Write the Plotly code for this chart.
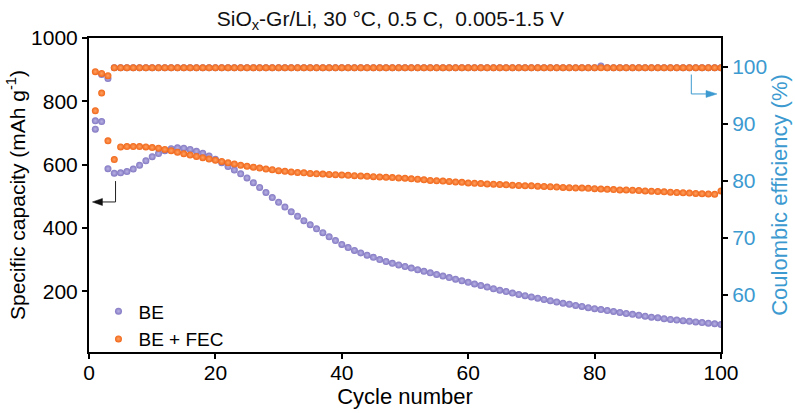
import plotly.graph_objects as go

cycles = list(range(1, 101))

be_capacity = [712, 736, 587, 573, 574, 578, 586, 598, 612, 625,
               635, 644, 650, 653, 652, 648, 642, 636, 627, 617,
               606, 594, 583, 571, 558, 543, 528, 512, 496, 481,
               466, 451, 437, 423, 410, 397, 385, 372, 360, 348,
               338, 329, 321, 314, 307, 300, 294, 288, 283, 278,
               273, 268, 263, 258, 253, 248, 243, 238, 233, 228,
               223, 218, 213, 208, 203, 199, 194, 190, 186, 182,
               178, 174, 170, 166, 162, 159, 155, 152, 148, 145,
               142, 139, 136, 133, 130, 127, 124, 121, 118, 116,
               113, 111, 109, 107, 105, 103, 101, 99, 97, 95]

fec_capacity = [770, 826, 675, 616, 656, 657, 657, 657, 656, 654,
                652, 648, 644, 639, 634, 630, 626, 622, 618, 614,
                610, 606, 602, 598, 595, 592, 589, 586, 584, 581,
                579, 577, 575, 574, 572, 571, 570, 569, 568, 567,
                566, 565, 564, 563, 562, 561, 560, 559, 558, 557,
                555, 554, 552, 550, 549, 548, 547, 545, 544, 542,
                541, 540, 539, 538, 537, 536, 535, 534, 533, 533,
                532, 531, 530, 529, 528, 527, 526, 526, 525, 524,
                523, 522, 521, 520, 520, 519, 518, 517, 516, 515,
                514, 513, 512, 511, 510, 509, 508, 507, 506, 517]

be_ce = [90.5, 98.6, 97.9] + [99.8] * 77 + [100.1] + [99.8] * 19
fec_ce = [99.1, 98.8, 98.4] + [99.8] * 97

series_names = ["BE", "BE + FEC"]
title_text = "SiO<sub>x</sub>-Gr/Li, 30 °C, 0.5 C,\u00a0\u00a00.005-1.5 V"

purple = "#8278C2"
purple_hi = "#B8B2E4"
orange = "#F06618"
orange_hi = "#FFA060"
blue = "#3C9AD0"
FONT = "Liberation Sans, Arial, sans-serif"

fig = go.Figure()

def mk(color, hi):
    return dict(size=7, color=color, line=dict(width=0),
                gradient=dict(type="radial", color=hi))

fig.add_trace(go.Scatter(x=cycles, y=be_capacity, mode="markers", name=series_names[0],
                         marker=mk(purple, purple_hi), yaxis="y"))
fig.add_trace(go.Scatter(x=cycles, y=fec_capacity, mode="markers", name=series_names[1],
                         marker=mk(orange, orange_hi), yaxis="y"))
fig.add_trace(go.Scatter(x=cycles, y=be_ce, mode="markers", showlegend=False,
                         marker=mk(purple, purple_hi), yaxis="y2"))
fig.add_trace(go.Scatter(x=cycles, y=fec_ce, mode="markers", showlegend=False,
                         marker=mk(orange, orange_hi), yaxis="y2"))

# black arrow -> capacity axis
fig.add_shape(type="path", xref="x", yref="y", path="M 4.2 548 L 4.2 482 L 1.6 482",
              line=dict(color="#222222", width=1))
fig.add_shape(type="path", xref="x", yref="y", xsizemode="pixel", ysizemode="pixel",
              xanchor=0.54, yanchor=482, path="M 0 0 L 10 3.5 L 10 -3.5 Z",
              fillcolor="#111111", line=dict(color="#111111", width=0.5))
# blue arrow -> CE axis
fig.add_shape(type="path", xref="x", yref="y2", path="M 95.3 98.6 L 95.3 95.2 L 98.0 95.2",
              line=dict(color=blue, width=1))
fig.add_shape(type="path", xref="x", yref="y2", xsizemode="pixel", ysizemode="pixel",
              xanchor=99.37, yanchor=95.2, path="M 0 0 L -11 3.5 L -11 -3.5 Z",
              fillcolor=blue, line=dict(color=blue, width=0.5))

fig.update_layout(
    width=795, height=413,
    margin=dict(l=89, r=74, t=38, b=61, autoexpand=False),
    paper_bgcolor="white", plot_bgcolor="white",
    font=dict(family=FONT, size=20, color="black"),
    title=dict(text=title_text, x=0.491, xanchor="center", y=0.955, yanchor="middle",
               font=dict(family=FONT, size=21, color="#111111")),
    xaxis=dict(range=[0, 100], tickvals=[0, 20, 40, 60, 80, 100], automargin=False,
               showline=True, linecolor="black", linewidth=2, mirror=True,
               ticks="outside", ticklen=5, tickwidth=2, tickcolor="black",
               showgrid=False, zeroline=False, ticklabelstandoff=-4,
               tickfont=dict(size=21),
               title=dict(text="Cycle number", font=dict(size=22), standoff=4)),
    yaxis=dict(range=[8, 1000], tickvals=[200, 400, 600, 800, 1000], automargin=False,
               showline=True, linecolor="black", linewidth=2,
               ticks="outside", ticklen=5, tickwidth=2, tickcolor="black",
               showgrid=False, zeroline=False,
               tickfont=dict(size=21),
               title=dict(text="Specific capacity (mAh g<sup>-1</sup>)",
                          font=dict(size=21), standoff=0)),
    yaxis2=dict(range=[50, 105], tickvals=[60, 70, 80, 90, 100], automargin=False,
                overlaying="y", side="right",
                showline=True, linecolor="black", linewidth=2,
                ticks="outside", ticklen=5, tickwidth=2, tickcolor="black",
                showgrid=False, zeroline=False,
                tickfont=dict(size=21, color=blue),
                title=dict(text="Coulombic efficiency (%)",
                           font=dict(size=22, color=blue), standoff=2)),
    legend=dict(x=0.015, y=0.19, xanchor="left", yanchor="top",
                bgcolor="rgba(0,0,0,0)", font=dict(size=19),
                itemwidth=30, tracegroupgap=0),
    showlegend=True,
)

fig.write_html("out.html")
